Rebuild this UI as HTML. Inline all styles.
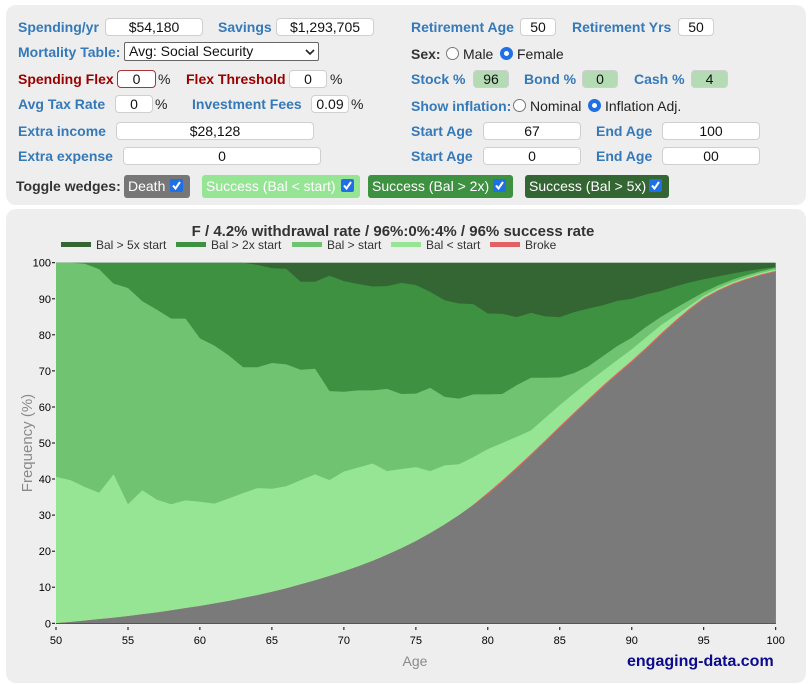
<!DOCTYPE html>
<html><head><meta charset="utf-8">
<style>
html,body{margin:0;padding:0;background:#fff;}
body{width:812px;height:684px;position:relative;overflow:hidden;font-family:"Liberation Sans",Arial,sans-serif;}
.panel{position:absolute;background:#eeeeee;border-radius:10px;}
.lbl{position:absolute;font-weight:bold;font-size:14px;line-height:18px;color:#3579b8;white-space:nowrap;}
.red{color:#990000;}
.dk{color:#333;}
.txt{position:absolute;font-size:14px;line-height:18px;color:#222;white-space:nowrap;}
.inp{position:absolute;box-sizing:border-box;background:#fff;border:1px solid #cfcfcf;border-radius:4px;font-size:14px;text-align:center;line-height:16px;color:#111;height:18px;white-space:nowrap;overflow:hidden;}
.grn{background:#b5dbb5;}
.btn{position:absolute;height:23px;top:175px;border-radius:3px;color:#fff;font-size:14px;line-height:23px;white-space:nowrap;box-sizing:border-box;padding-left:4px;}
.cb{position:absolute;top:4px;width:13px;height:13px;}
.radio{position:absolute;width:13px;height:13px;box-sizing:border-box;border-radius:50%;}
.r0{border:1px solid #777;background:#fff;}
.r1{border:4px solid #1f6fe5;background:#fff;}
</style></head><body>

<div class="panel" style="left:6px;top:5px;width:800px;height:200px;"></div>
<div class="panel" style="left:6px;top:209px;width:800px;height:474px;"></div>

<!-- left column -->
<div class="lbl" style="left:18px;top:18px;">Spending/yr</div>
<div class="inp" style="left:105px;top:18px;width:98px;">$54,180</div>
<div class="lbl" style="left:218px;top:18px;">Savings</div>
<div class="inp" style="left:276px;top:18px;width:98px;">$1,293,705</div>

<div class="lbl" style="left:18px;top:43px;">Mortality Table:</div>
<div class="inp" style="left:124px;top:42px;width:195px;height:19px;border:1px solid #666;border-radius:2px;text-align:left;padding-left:4px;line-height:17px;">Avg: Social Security</div>
<svg style="position:absolute;left:304px;top:47px;" width="12" height="10"><polyline points="2,3 6,7 10,3" fill="none" stroke="#222" stroke-width="1.6"/></svg>

<div class="lbl red" style="left:18px;top:70px;">Spending Flex</div>
<div class="inp" style="left:117px;top:70px;width:39px;border:1px solid #a33;">0</div>
<div class="txt" style="left:158px;top:70px;">%</div>
<div class="lbl red" style="left:186px;top:70px;">Flex Threshold</div>
<div class="inp" style="left:289px;top:70px;width:38px;">0</div>
<div class="txt" style="left:330px;top:70px;">%</div>

<div class="lbl" style="left:18px;top:95px;">Avg Tax Rate</div>
<div class="inp" style="left:115px;top:95px;width:38px;">0</div>
<div class="txt" style="left:155px;top:95px;">%</div>
<div class="lbl" style="left:192px;top:95px;">Investment Fees</div>
<div class="inp" style="left:311px;top:95px;width:38px;">0.09</div>
<div class="txt" style="left:351px;top:95px;">%</div>

<div class="lbl" style="left:18px;top:122px;">Extra income</div>
<div class="inp" style="left:116px;top:122px;width:198px;">$28,128</div>
<div class="lbl" style="left:18px;top:147px;">Extra expense</div>
<div class="inp" style="left:123px;top:147px;width:198px;">0</div>

<div class="lbl dk" style="left:16px;top:177px;">Toggle wedges:</div>

<div class="btn" style="left:124px;width:66px;background:#777777;">Death<svg class="cb" style="left:46px;" viewBox="0 0 13 13"><rect width="13" height="13" rx="2" fill="#1f6fe5"/><polyline points="3,6.5 5.5,9.5 10,3" fill="none" stroke="#fff" stroke-width="2"/></svg></div>
<div class="btn" style="left:202px;width:158px;background:#95e595;">Success (Bal &lt; start)<svg class="cb" style="left:139px;" viewBox="0 0 13 13"><rect width="13" height="13" rx="2" fill="#1f6fe5"/><polyline points="3,6.5 5.5,9.5 10,3" fill="none" stroke="#fff" stroke-width="2"/></svg></div>
<div class="btn" style="left:368px;width:145px;background:#3d9140;">Success (Bal &gt; 2x)<svg class="cb" style="left:125px;" viewBox="0 0 13 13"><rect width="13" height="13" rx="2" fill="#1f6fe5"/><polyline points="3,6.5 5.5,9.5 10,3" fill="none" stroke="#fff" stroke-width="2"/></svg></div>
<div class="btn" style="left:525px;width:144px;background:#336633;">Success (Bal &gt; 5x)<svg class="cb" style="left:124px;" viewBox="0 0 13 13"><rect width="13" height="13" rx="2" fill="#1f6fe5"/><polyline points="3,6.5 5.5,9.5 10,3" fill="none" stroke="#fff" stroke-width="2"/></svg></div>

<!-- right column -->
<div class="lbl" style="left:411px;top:18px;">Retirement Age</div>
<div class="inp" style="left:520px;top:18px;width:36px;">50</div>
<div class="lbl" style="left:572px;top:18px;">Retirement Yrs</div>
<div class="inp" style="left:678px;top:18px;width:36px;">50</div>

<div class="lbl dk" style="left:411px;top:45px;">Sex:</div>
<div class="radio r0" style="left:446px;top:47px;"></div>
<div class="txt" style="left:463px;top:45px;">Male</div>
<div class="radio r1" style="left:500px;top:47px;"></div>
<div class="txt" style="left:517px;top:45px;">Female</div>

<div class="lbl" style="left:411px;top:70px;">Stock %</div>
<div class="inp grn" style="left:473px;top:70px;width:36px;">96</div>
<div class="lbl" style="left:524px;top:70px;">Bond %</div>
<div class="inp grn" style="left:582px;top:70px;width:36px;">0</div>
<div class="lbl" style="left:634px;top:70px;">Cash %</div>
<div class="inp grn" style="left:691px;top:70px;width:37px;">4</div>

<div class="lbl" style="left:411px;top:97px;">Show inflation:</div>
<div class="radio r0" style="left:513px;top:99px;"></div>
<div class="txt" style="left:530px;top:97px;">Nominal</div>
<div class="radio r1" style="left:588px;top:99px;"></div>
<div class="txt" style="left:605px;top:97px;">Inflation Adj.</div>

<div class="lbl" style="left:411px;top:122px;">Start Age</div>
<div class="inp" style="left:483px;top:122px;width:98px;">67</div>
<div class="lbl" style="left:596px;top:122px;">End Age</div>
<div class="inp" style="left:662px;top:122px;width:98px;">100</div>

<div class="lbl" style="left:411px;top:147px;">Start Age</div>
<div class="inp" style="left:483px;top:147px;width:98px;">0</div>
<div class="lbl" style="left:596px;top:147px;">End Age</div>
<div class="inp" style="left:662px;top:147px;width:98px;">00</div>

<!-- chart -->
<svg style="position:absolute;left:0;top:0;" width="812" height="684" viewBox="0 0 812 684" font-family="Liberation Sans, Arial, sans-serif">
<text x="393" y="236" text-anchor="middle" font-size="15" font-weight="bold" fill="#333">F / 4.2% withdrawal rate / 96%:0%:4% / 96% success rate</text>
<g font-size="12" fill="#333">
<rect x="61" y="242" width="30" height="5" fill="#336633"/><text x="96" y="249">Bal &gt; 5x start</text>
<rect x="176" y="242" width="30" height="5" fill="#3d9140"/><text x="211" y="249">Bal &gt; 2x start</text>
<rect x="292" y="242" width="30" height="5" fill="#70c370"/><text x="327" y="249">Bal &gt; start</text>
<rect x="391" y="242" width="30" height="5" fill="#95e595"/><text x="426" y="249">Bal &lt; start</text>
<rect x="490" y="242" width="30" height="5" fill="#e06262"/><text x="525" y="249">Broke</text>
</g>
<g transform="translate(56 623.3) scale(14.394 -3.606)">
<rect x="0" y="0" width="50" height="100" fill="#336633"/>
<polygon fill="#3d9140" points="0,0 0,100 1,100 2,100 3,100 4,100 5,100 6,100 7,100 8,100 9,100 10,100 11,100 12,100 13,100 14,99.4 15,98.5 16,98.3 17,94.7 18,94.7 19,96.4 20,94.9 21,94.1 22,93.4 23,93.5 24,94.4 25,93.8 26,91.9 27,89.6 28,88.7 29,88.5 30,85.9 31,85.8 32,84.9 33,86.1 34,85.1 35,84.9 36,86.3 37,87.3 38,88.2 39,89.4 40,90 41,91.2 42,92.1 43,93.4 44,94.5 45,95.4 46,96.2 47,97 48,97.7 49,98.3 50,98.8 50,0"/>
<polygon fill="#70c370" points="0,0 0,100 1,100 2,99.7 3,98.2 4,94.2 5,93 6,89.3 7,87 8,84.5 9,84.5 10,79 11,77 12,74.3 13,71 14,71 15,72.2 16,71.8 17,70.3 18,70.6 19,64.4 20,64.2 21,64.6 22,64.6 23,65 24,63.6 25,63.7 26,65.3 27,62.8 28,62.3 29,63.5 30,63.5 31,63.6 32,66 33,68.1 34,68.1 35,68.2 36,69.4 37,71.3 38,74.1 39,76.9 40,79.2 41,82.2 42,84.9 43,87.3 44,89.6 45,91.8 46,93.7 47,95.3 48,96.6 49,97.7 50,98.6 50,0"/>
<polygon fill="#95e595" points="0,0 0,40.6 1,39.7 2,37.8 3,36.2 4,41.3 5,33 6,36.9 7,34.3 8,33 9,34.1 10,33.7 11,33.2 12,34.6 13,36.1 14,37.5 15,37.3 16,38 17,39.7 18,41.3 19,39.7 20,42.1 21,43.2 22,44.3 23,42.2 24,42.8 25,43.3 26,42.2 27,43.8 28,44.1 29,46.1 30,48.3 31,50 32,51.7 33,53.5 34,57 35,60.5 36,63.8 37,67 38,70 39,73 40,76 41,79.3 42,82.6 43,85.3 44,88 45,90.8 46,92.9 47,94.6 48,96 49,97.2 50,98.1 50,0"/>
<polygon fill="#e06262" points="0,0 1,0.35 2,0.75 3,1.15 4,1.55 5,2 6,2.5 7,3 8,3.6 9,4.2 10,4.8 11,5.5 12,6.2 13,7 14,7.8 15,8.7 16,9.7 17,10.8 18,11.9 19,13.1 20,14.4 21,15.8 22,17.3 23,19 24,20.8 25,22.8 26,25 27,27.4 28,30 29,32.9 30,36.25 31,39.65 32,43.25 33,46.95 34,50.75 35,54.65 36,58.45 37,62.25 38,65.95 39,69.45 40,72.85 41,76.45 42,80.25 43,83.85 44,87.25 45,90.2 46,92.4 47,94.2 48,95.6 49,96.8 50,97.75 50,0"/>
<polygon fill="#7a7a7a" points="0,0 1,0.35 2,0.75 3,1.15 4,1.55 5,2 6,2.5 7,3 8,3.6 9,4.2 10,4.8 11,5.5 12,6.2 13,7 14,7.8 15,8.7 16,9.7 17,10.8 18,11.9 19,13.1 20,14.4 21,15.8 22,17.3 23,19 24,20.8 25,22.8 26,25 27,27.4 28,30 29,32.8 30,35.8 31,39.2 32,42.8 33,46.5 34,50.3 35,54.2 36,58 37,61.8 38,65.5 39,69 40,72.4 41,76 42,79.8 43,83.4 44,86.8 45,89.9 46,92.1 47,93.9 48,95.3 49,96.5 50,97.5 50,0"/>
</g>
<line x1="56" y1="623.5" x2="776" y2="623.5" stroke="#555" stroke-width="1"/>
<g font-size="11" fill="#000" text-anchor="end">
<text x="51" y="266.7">100</text>
<text x="51" y="302.8">90</text>
<text x="51" y="338.8">80</text>
<text x="51" y="374.9">70</text>
<text x="51" y="411">60</text>
<text x="51" y="447">50</text>
<text x="51" y="483">40</text>
<text x="51" y="519.1">30</text>
<text x="51" y="555.2">20</text>
<text x="51" y="591.2">10</text>
<text x="51" y="627.3">0</text>
</g>
<g stroke="#000" stroke-width="1">
<line x1="52" y1="262.7" x2="55" y2="262.7"/><line x1="52" y1="298.8" x2="55" y2="298.8"/><line x1="52" y1="334.8" x2="55" y2="334.8"/><line x1="52" y1="370.9" x2="55" y2="370.9"/><line x1="52" y1="407" x2="55" y2="407"/><line x1="52" y1="443" x2="55" y2="443"/><line x1="52" y1="479" x2="55" y2="479"/><line x1="52" y1="515.1" x2="55" y2="515.1"/><line x1="52" y1="551.2" x2="55" y2="551.2"/><line x1="52" y1="587.2" x2="55" y2="587.2"/><line x1="52" y1="623.3" x2="55" y2="623.3"/>
<line x1="56" y1="627" x2="56" y2="630"/><line x1="128" y1="627" x2="128" y2="630"/><line x1="199.9" y1="627" x2="199.9" y2="630"/><line x1="271.9" y1="627" x2="271.9" y2="630"/><line x1="343.9" y1="627" x2="343.9" y2="630"/><line x1="415.9" y1="627" x2="415.9" y2="630"/><line x1="487.8" y1="627" x2="487.8" y2="630"/><line x1="559.8" y1="627" x2="559.8" y2="630"/><line x1="631.8" y1="627" x2="631.8" y2="630"/><line x1="703.7" y1="627" x2="703.7" y2="630"/><line x1="775.7" y1="627" x2="775.7" y2="630"/>
</g>
<g font-size="11" fill="#000" text-anchor="middle">
<text x="56" y="644">50</text>
<text x="128" y="644">55</text>
<text x="199.9" y="644">60</text>
<text x="271.9" y="644">65</text>
<text x="343.9" y="644">70</text>
<text x="415.9" y="644">75</text>
<text x="487.8" y="644">80</text>
<text x="559.8" y="644">85</text>
<text x="631.8" y="644">90</text>
<text x="703.7" y="644">95</text>
<text x="775.7" y="644">100</text>
</g>
<text x="0" y="0" transform="translate(32 443) rotate(-90)" text-anchor="middle" font-size="15" fill="#8a8a8a">Frequency (%)</text>
<text x="415" y="666" text-anchor="middle" font-size="14" fill="#8a8a8a">Age</text>
<text x="627" y="666" font-size="16" font-weight="bold" fill="#0b0b8c">engaging-data.com</text>
</svg>
</body></html>
